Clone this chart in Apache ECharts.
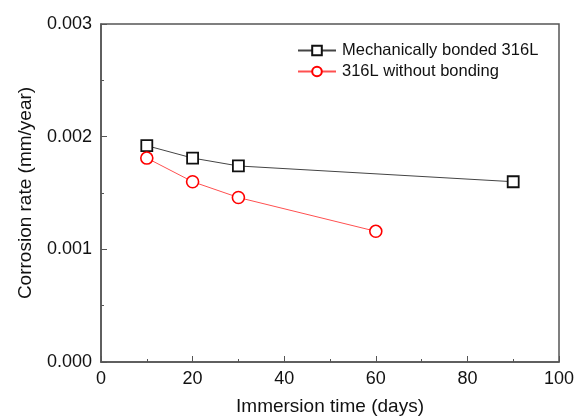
<!DOCTYPE html>
<html>
<head>
<meta charset="utf-8">
<script src="https://cdn.jsdelivr.net/npm/echarts@6/dist/echarts.min.js"></script>
<style>
  html, body { margin: 0; padding: 0; background: #fff; }
  #chart { width: 576px; height: 419px; }
</style>
</head>
<body>
<div id="chart"></div>
<script>
// data
const bondedDays = [10, 20, 30, 90];
const bondedRate = [0.00192, 0.00181, 0.00174, 0.00160];
const plainDays = [10, 20, 30, 60];
const plainRate = [0.00181, 0.00160, 0.00146, 0.00116];
const seriesNames = ['Mechanically bonded 316L', '316L without bonding'];

const chart = echarts.init(document.getElementById('chart'));
const font = 'Liberation Sans, Arial, sans-serif';
const axisColor = '#555';

const zip = (xs, ys) => xs.map((x, i) => [x, ys[i]]);

chart.setOption({
  animation: false,
  grid: {
    left: 101, right: 17, top: 24, bottom: 57, outerBoundsMode: 'none',
    show: true, borderColor: axisColor, borderWidth: 1.5
  },
  legend: {
    top: 37, left: 292, orient: 'vertical', itemGap: 4, itemWidth: 38, itemHeight: 12,
    textStyle: { fontFamily: font, fontSize: 16.5, color: '#111', padding: [0, 0, 0, 1] },
    data: seriesNames
  },
  xAxis: {
    type: 'value', min: 0, max: 100, interval: 20,
    name: 'Immersion time (days)', nameLocation: 'middle', nameGap: 35,
    nameTextStyle: { fontFamily: font, fontSize: 19, color: '#111' },
    axisLine: { lineStyle: { color: axisColor, width: 1.5 } },
    axisTick: { inside: true, length: 6, lineStyle: { color: axisColor } },
    minorTick: { show: true, splitNumber: 2, length: 3, lineStyle: { color: axisColor } },
    axisLabel: { fontFamily: font, fontSize: 18, color: '#111', margin: 8 },
    splitLine: { show: false }
  },
  yAxis: {
    type: 'value', min: 0, max: 0.003, interval: 0.001,
    name: 'Corrosion rate (mm/year)', nameLocation: 'middle', nameGap: 66,
    nameTextStyle: { fontFamily: font, fontSize: 19, color: '#111' },
    axisLine: { lineStyle: { color: axisColor, width: 1.5 } },
    axisTick: { inside: true, length: 6, lineStyle: { color: axisColor } },
    minorTick: { show: true, splitNumber: 2, length: 3, lineStyle: { color: axisColor } },
    axisLabel: { fontFamily: font, fontSize: 18, color: '#111', margin: 9, formatter: v => v.toFixed(3) },
    splitLine: { show: false }
  },
  series: [
    {
      name: seriesNames[0], type: 'line', data: zip(bondedDays, bondedRate),
      symbol: 'rect', symbolSize: 11,
      lineStyle: { color: '#444', width: 1 },
      itemStyle: { color: '#fff', borderColor: '#111', borderWidth: 1.8 }
    },
    {
      name: seriesNames[1], type: 'line', data: zip(plainDays, plainRate),
      symbol: 'circle', symbolSize: 12,
      lineStyle: { color: '#ff5050', width: 1 },
      itemStyle: { color: '#fff', borderColor: '#ff0000', borderWidth: 1.6 }
    }
  ]
});
</script>
</body>
</html>
